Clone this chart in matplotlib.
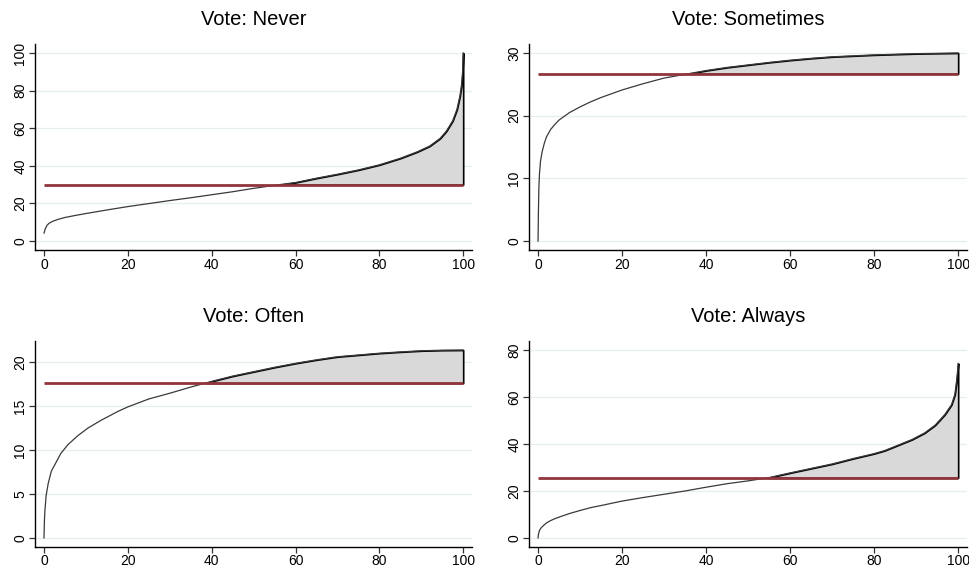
import matplotlib
matplotlib.use("Agg")
import matplotlib.pyplot as plt
import numpy as np

plt.rcParams['font.family'] = ['Liberation Sans', 'DejaVu Sans']

titles = ["Vote: Never", "Vote: Sometimes", "Vote: Often", "Vote: Always"]

never_x = [0, 0.3, 0.7, 1.2, 2, 3.5, 5, 7.5, 10, 15, 20, 25, 30, 35, 40, 45, 50, 55, 60,
           65, 70, 75, 80, 85, 89, 92, 94.5, 96, 97.5, 98.5, 99.2, 99.6, 99.85, 100]
never_y = [4.2, 6.5, 8.3, 9.4, 10.4, 11.6, 12.5, 13.6, 14.6, 16.5, 18.3, 19.9, 21.5, 23.0,
           24.6, 26.2, 28.0, 29.6, 31.1, 33.4, 35.5, 37.8, 40.5, 44.0, 47.4, 50.5, 54.6,
           58.5, 64.0, 70.0, 77.0, 83.0, 90.0, 100.0]
never_thr = 30.0

some_x = [0, 0.1, 0.2, 0.35, 0.6, 1, 1.5, 2, 3, 4, 5, 7.5, 10, 12.5, 15, 20, 25, 30, 35,
          40, 45, 50, 55, 60, 65, 70, 75, 80, 85, 90, 95, 100]
some_y = [0, 5, 8.5, 10.8, 12.8, 14.3, 15.6, 16.6, 17.8, 18.6, 19.3, 20.5, 21.4, 22.2,
          22.9, 24.1, 25.1, 26.0, 26.6, 27.2, 27.7, 28.1, 28.5, 28.85, 29.15, 29.4, 29.55,
          29.7, 29.8, 29.9, 29.95, 30.0]
some_thr = 26.7

often_x = [0, 0.1, 0.2, 0.5, 1, 1.75, 3, 4, 5.7, 8, 10.5, 13.7, 17.7, 20, 25, 30, 35, 40,
           45, 50, 55, 60, 65, 70, 75, 80, 85, 90, 95, 100]
often_y = [0, 2.0, 3.0, 4.8, 6.2, 7.6, 8.7, 9.6, 10.6, 11.6, 12.5, 13.4, 14.4, 14.9, 15.8,
           16.45, 17.15, 17.8, 18.4, 18.9, 19.4, 19.85, 20.25, 20.6, 20.8, 21.0, 21.15,
           21.28, 21.34, 21.36]
often_thr = 17.6

always_x = [0, 0.1, 0.3, 0.6, 1, 2, 3, 4, 5.5, 7.5, 10, 12.5, 15, 20, 25, 30, 35, 40, 45,
            50, 55, 60, 65, 70, 75, 80, 82.5, 85, 89, 92, 94.5, 96.8, 98.4, 99.2, 99.6,
            99.85, 100]
always_y = [0, 1.5, 3.0, 4.0, 4.8, 6.4, 7.4, 8.2, 9.2, 10.4, 11.7, 12.9, 13.8, 15.7, 17.2,
            18.6, 20.0, 21.6, 23.1, 24.3, 25.7, 27.7, 29.6, 31.5, 33.8, 35.9, 37.2, 39.0,
            41.9, 44.7, 48.0, 52.5, 56.7, 61.0, 66.6, 71.0, 74.3]
always_thr = 25.6

x_ticks = [0, 20, 40, 60, 80, 100]
y_ticks = [[0, 20, 40, 60, 80, 100], [0, 10, 20, 30], [0, 5, 10, 15, 20], [0, 20, 40, 60, 80]]
ylims = [(-4.8, 104.8), (-1.44, 31.44), (-1.03, 22.39), (-3.85, 83.85)]

series = [(never_x, never_y, never_thr), (some_x, some_y, some_thr),
          (often_x, often_y, often_thr), (always_x, always_y, always_thr)]

positions = [
    [35/970, (569-250)/569, (472-35)/970, 206/569],
    [529/970, (569-250)/569, (967-529)/970, 206/569],
    [35/970, (569-547)/569, (472-35)/970, 206/569],
    [529/970, (569-547)/569, (967-529)/970, 206/569],
]

fig = plt.figure(figsize=(9.7, 5.69), dpi=100)
fig.patch.set_facecolor('white')

for i, (xs, ys, thr) in enumerate(series):
    ax = fig.add_axes(positions[i])
    x = np.array(xs, dtype=float)
    y = np.array(ys, dtype=float)
    for yt in y_ticks[i]:
        ax.axhline(yt, color='#E6EEF0', lw=0.9, zorder=0)
    ax.fill_between(x, thr, y, where=y >= thr, interpolate=True,
                    facecolor='#D9D9D9', edgecolor='black', linewidth=1.2, zorder=2)
    ax.plot(x, y, color='#3a3a3a', lw=0.9, zorder=3)
    ax.plot([x[0], x[-1]], [thr, thr], color='#90353B', lw=2.0, zorder=4,
            solid_capstyle='butt')
    ax.set_xlim(-2.15, 102.1)
    ax.set_ylim(*ylims[i])
    ax.set_xticks(x_ticks)
    ax.set_yticks(y_ticks[i])
    ax.set_yticklabels([str(t) for t in y_ticks[i]], rotation=90, va='center')
    for s in ['top', 'right']:
        ax.spines[s].set_visible(False)
    for s in ['left', 'bottom']:
        ax.spines[s].set_linewidth(1.0)
        ax.spines[s].set_color('black')
    ax.tick_params(axis='both', direction='out', length=4, width=0.9,
                   color='#333333', labelsize=10, labelcolor='black')
    ax.tick_params(axis='y', pad=1.5)
    ax.tick_params(axis='x', pad=2.0 if i < 2 else 1.0)
    ax.set_title(titles[i], fontsize=14.5, pad=13.5, color='black')
    ax.set_facecolor('white')

fig.savefig('out.png', dpi=100, facecolor='white')
